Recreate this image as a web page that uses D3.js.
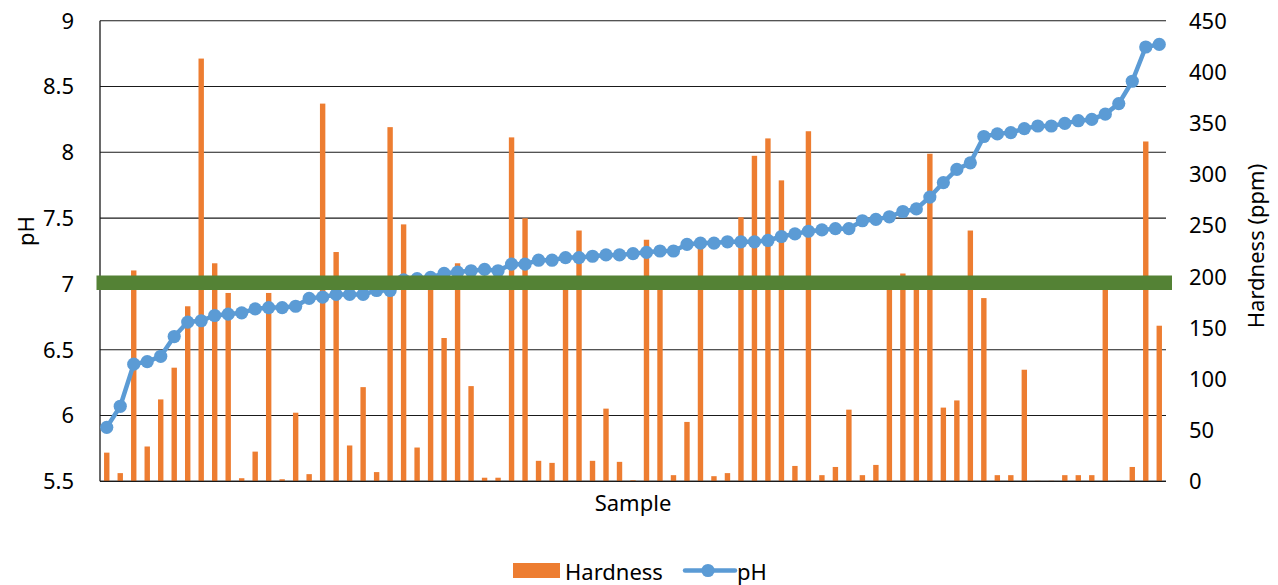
<!DOCTYPE html>
<html>
<head>
<meta charset="utf-8">
<script src="https://cdn.jsdelivr.net/npm/d3@7"></script>
<style>
  html, body { margin: 0; padding: 0; background: #fff; }
  svg { display: block; font-family: "Noto Sans", "Open Sans", sans-serif; }
</style>
</head>
<body>
<svg id="chart" width="1278" height="585"></svg>
<script>
// ---- data ----
const samples = d3.range(1, 80);
const phValues = [
  5.91, 6.07, 6.39, 6.41, 6.45, 6.60, 6.71, 6.72, 6.76, 6.77,
  6.78, 6.81, 6.82, 6.82, 6.83, 6.89, 6.90, 6.92, 6.92, 6.92,
  6.95, 6.95, 7.03, 7.04, 7.05, 7.08, 7.09, 7.10, 7.11, 7.10,
  7.15, 7.15, 7.18, 7.18, 7.20, 7.20, 7.21, 7.22, 7.22, 7.23,
  7.24, 7.25, 7.25, 7.30, 7.31, 7.31, 7.32, 7.32, 7.32, 7.33,
  7.36, 7.38, 7.40, 7.41, 7.42, 7.42, 7.48, 7.49, 7.51, 7.55,
  7.57, 7.66, 7.77, 7.87, 7.92, 8.12, 8.14, 8.15, 8.18, 8.20,
  8.20, 8.22, 8.24, 8.25, 8.29, 8.37, 8.54, 8.80, 8.82
];
const hardnessValues = [
  28, 8, 206, 34, 80, 111, 171, 413, 213, 184,
  3, 29, 184, 2, 67, 7, 369, 224, 35, 92,
  9, 346, 251, 33, 196, 140, 213, 93, 3.5, 3.5,
  336, 257, 20, 18, 196, 245, 20, 71, 19, 1,
  236, 196, 6, 58, 232, 5, 8, 258, 318, 335,
  294, 15, 342, 6, 14, 70, 6, 16, 196, 203,
  196, 320, 72, 79, 245, 179, 6, 6, 109, 0.5,
  0.5, 6, 6, 6, 196, 0.5, 14, 332, 152
];
const phTicks = [5.5, 6, 6.5, 7, 7.5, 8, 8.5, 9];
const hardnessTicks = [0, 50, 100, 150, 200, 250, 300, 350, 400, 450];
const referencePH = [7];
const legendItems = ["Hardness", "pH"];

// ---- layout ----
const svg = d3.select("#chart");
const W = 1278, H = 585;
const plot = { left: 100, right: 1166, top: 20.7, bottom: 481.3 };
const colors = { bar: "#ED7D31", line: "#5B9BD5", ref: "#548235", grid: "#1a1a1a", text: "#000" };
const fontSize = 22;

svg.append("rect").attr("width", W).attr("height", H).attr("fill", "#fff");

const xc = d3.scaleBand().domain(samples).range([plot.left, plot.right]);
const yPH = d3.scaleLinear().domain([5.5, 9]).range([plot.bottom, plot.top]);
const yH = d3.scaleLinear().domain([0, 450]).range([plot.bottom, plot.top]);

// gridlines
svg.append("g")
  .selectAll("line").data(phTicks).join("line")
  .attr("x1", plot.left).attr("x2", plot.right)
  .attr("y1", d => yPH(d)).attr("y2", d => yPH(d))
  .attr("stroke", colors.grid).attr("stroke-width", 1.1);

// left axis line
svg.append("line")
  .attr("x1", plot.left).attr("x2", plot.left)
  .attr("y1", yPH(9)).attr("y2", yPH(5.5))
  .attr("stroke", colors.grid).attr("stroke-width", 1.3);

// bars
const bw = 5.4;
svg.append("g").selectAll("rect").data(hardnessValues).join("rect")
  .attr("x", (d, i) => xc(samples[i]) + xc.bandwidth() / 2 - bw / 2)
  .attr("width", bw)
  .attr("y", d => yH(d))
  .attr("height", d => yH(0) - yH(d))
  .attr("fill", colors.bar);

// bottom axis line on top of bars
svg.append("line")
  .attr("x1", plot.left).attr("x2", plot.right)
  .attr("y1", yPH(5.5)).attr("y2", yPH(5.5))
  .attr("stroke", colors.grid).attr("stroke-width", 1.3);

// pH line
const cx = i => xc(samples[i]) + xc.bandwidth() / 2;
const line = d3.line().x((d, i) => cx(i)).y(d => yPH(d));
svg.append("path").datum(phValues)
  .attr("d", line).attr("fill", "none")
  .attr("stroke", colors.line).attr("stroke-width", 4.5)
  .attr("stroke-linejoin", "round");
svg.append("g").selectAll("circle").data(phValues).join("circle")
  .attr("cx", (d, i) => cx(i)).attr("cy", d => yPH(d))
  .attr("r", 6.6).attr("fill", colors.line);

// reference line at pH 7
svg.append("g").selectAll("line").data(referencePH).join("line")
  .attr("x1", plot.left - 3.5).attr("x2", plot.right + 6)
  .attr("y1", d => yPH(d) - 1.2).attr("y2", d => yPH(d) - 1.2)
  .attr("stroke", colors.ref).attr("stroke-width", 14.5);

// axes (labels only)
const fmt = d => (d % 1 ? d.toFixed(1) : String(d));
const leftAxis = svg.append("g")
  .attr("transform", `translate(74,0)`)
  .call(d3.axisLeft(yPH).tickValues(phTicks).tickFormat(fmt).tickSize(0).tickPadding(0));
leftAxis.select(".domain").remove();
leftAxis.selectAll("text").attr("font-size", fontSize).attr("font-family", "Noto Sans").attr("fill", colors.text).attr("dy", "0.34em");

const rightAxis = svg.append("g")
  .attr("transform", `translate(1189,0)`)
  .call(d3.axisRight(yH).tickValues(hardnessTicks).tickSize(0).tickPadding(0));
rightAxis.select(".domain").remove();
rightAxis.selectAll("text").attr("font-size", fontSize).attr("font-family", "Noto Sans").attr("fill", colors.text).attr("dy", "0.34em");

// axis titles
svg.append("text").text("pH")
  .attr("transform", "translate(25,231) rotate(-90)")
  .attr("text-anchor", "middle").attr("dominant-baseline", "central")
  .attr("font-size", fontSize).attr("fill", colors.text);
svg.append("text").text("Hardness (ppm)")
  .attr("transform", "translate(1255,246) rotate(-90)")
  .attr("text-anchor", "middle").attr("dominant-baseline", "central")
  .attr("font-size", fontSize).attr("fill", colors.text);
svg.append("text").text("Sample")
  .attr("x", (plot.left + plot.right) / 2).attr("y", 502)
  .attr("text-anchor", "middle").attr("dominant-baseline", "central")
  .attr("font-size", fontSize).attr("fill", colors.text);

// legend
const lg = svg.append("g");
lg.append("rect").attr("x", 513).attr("y", 563).attr("width", 47).attr("height", 15).attr("fill", colors.bar);
lg.append("text").text(legendItems[0]).attr("x", 565).attr("y", 570.5)
  .attr("dominant-baseline", "central").attr("font-size", fontSize).attr("fill", colors.text);
lg.append("line").attr("x1", 685).attr("x2", 735).attr("y1", 570.5).attr("y2", 570.5)
  .attr("stroke", colors.line).attr("stroke-width", 4.5).attr("stroke-linecap", "round");
lg.append("circle").attr("cx", 708).attr("cy", 570.5).attr("r", 6.6).attr("fill", colors.line);
lg.append("text").text(legendItems[1]).attr("x", 737).attr("y", 570.5)
  .attr("dominant-baseline", "central").attr("font-size", fontSize).attr("fill", colors.text);
</script>
</body>
</html>
